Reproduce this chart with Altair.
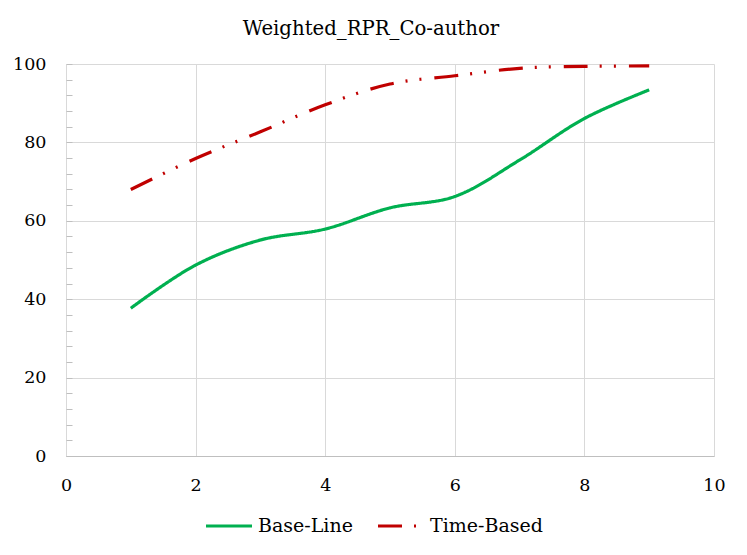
import altair as alt
import pandas as pd

x_vals = [1, 2, 3, 4, 5, 6, 7, 8, 9]
base_line = [37.7, 48.7, 55.1, 57.9, 63.3, 66.2, 75.5, 86.1, 93.4]
time_based = [68.0, 75.9, 82.7, 89.6, 94.9, 97.0, 98.9, 99.4, 99.5]
series_names = ["Base-Line", "Time-Based"]
series_colors = ["#00B050", "#C00000"]
x_ticks = [0, 2, 4, 6, 8, 10]
y_ticks = list(range(0, 101, 4))

rows = []
for xv, b in zip(x_vals, base_line):
    rows.append({"x": xv, "y": b, "series": series_names[0]})
for xv, t in zip(x_vals, time_based):
    rows.append({"x": xv, "y": t, "series": series_names[1]})
df = pd.DataFrame(rows)

FONT = "DejaVu Serif"

legend_args = dict(title=None, orient="none", direction="horizontal",
                   legendX=138, legendY=437,
                   symbolType="stroke", symbolSize=2116,
                   symbolStrokeWidth=3.2, labelFont=FONT,
                   labelFontSize=19, labelColor="#000",
                   labelOffset=4, columnPadding=18)

chart = alt.Chart(df).mark_line(
    interpolate="catmull-rom", strokeWidth=3.2
).encode(
    x=alt.X("x:Q", scale=alt.Scale(domain=[0, 10], nice=False),
            axis=alt.Axis(values=x_ticks, title=None, ticks=False, domainColor="#bfbfbf",
                          gridColor="#d9d9d9", labelFont=FONT, labelFontSize=17.5,
                          labelColor="#000", labelPadding=20, labelFlush=False)),
    y=alt.Y("y:Q", scale=alt.Scale(domain=[0, 100], nice=False),
            axis=alt.Axis(values=y_ticks, title=None, offset=-6, tickSize=6,
                          tickColor="#bfbfbf", domain=False,
                          gridColor={"condition": {"test": "datum.value % 20 === 0", "value": "#d9d9d9"},
                                     "value": "transparent"},
                          labelExpr="datum.value % 20 === 0 ? datum.label : ''",
                          labelOverlap=False, labelFont=FONT, labelFontSize=17.5,
                          labelColor="#000", labelPadding=20, labelFlush=False)),
    color=alt.Color("series:N", scale=alt.Scale(domain=series_names, range=series_colors),
                    legend=alt.Legend(**legend_args)),
    strokeDash=alt.StrokeDash("series:N",
                              scale=alt.Scale(domain=series_names,
                                              range=[[1, 0], [24, 12, 2, 12, 2, 13]]),
                              legend=alt.Legend(**legend_args)),
).properties(
    width=648, height=392,
    title=alt.TitleParams("Weighted_RPR_Co-author", font=FONT, fontSize=19.7,
                          fontWeight="normal", color="#000", offset=16, dx=-19),
    autosize=alt.AutoSizeParams(type="none"),
    padding={"left": 58, "top": 56, "right": 25, "bottom": 91},
).configure_view(stroke=None)

chart.save("out.html", embed_options={"renderer": "svg", "actions": False})
